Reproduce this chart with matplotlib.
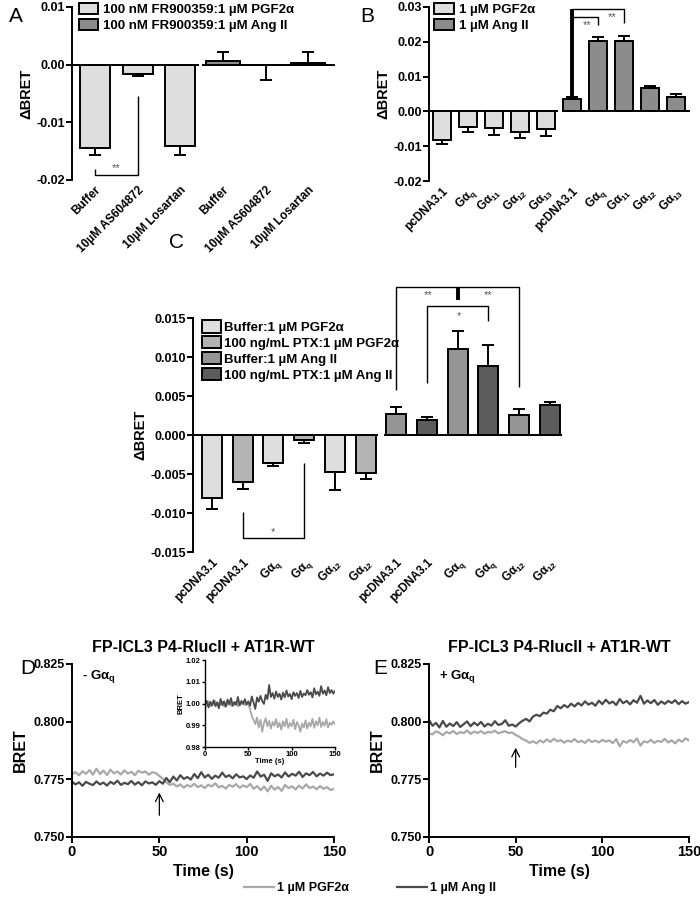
import matplotlib
matplotlib.use("Agg")
import matplotlib.pyplot as plt
import numpy as np
from matplotlib.patches import Patch
from matplotlib.lines import Line2D
from matplotlib.ticker import FormatStrFormatter

plt.rcParams["font.family"] = ["Liberation Sans", "DejaVu Sans"]
plt.rcParams["font.weight"] = "bold"
plt.rcParams["axes.labelweight"] = "bold"
plt.rcParams["axes.unicode_minus"] = False
plt.rcParams["mathtext.fontset"] = "custom"
plt.rcParams["mathtext.rm"] = "Liberation Sans:bold"
plt.rcParams["mathtext.it"] = "Liberation Sans:bold"
plt.rcParams["mathtext.bf"] = "Liberation Sans:bold"

W, H = 700, 905

# ---------------- data ----------------
# Panel A
a_labels = ["Buffer", "10\u00b5M AS604872", "10\u00b5M Losartan",
            "Buffer", "10\u00b5M AS604872", "10\u00b5M Losartan"]
a_pgf = [-0.0145, -0.0016, -0.0141]
a_pgf_err = [0.0011, 0.0003, 0.0015]
a_ang = [0.0007, -0.0001, 0.0003]
a_ang_err = [0.0015, 0.0025, 0.0019]

# Panel B
b_labels = ["pcDNA3.1", r"G$\alpha_q$", r"G$\alpha_{11}$", r"G$\alpha_{12}$", r"G$\alpha_{13}$"] * 2
b_pgf = [-0.0083, -0.0046, -0.0048, -0.0060, -0.0051]
b_pgf_err = [0.0012, 0.0013, 0.0020, 0.0017, 0.0021]
b_ang = [0.0036, 0.0201, 0.0201, 0.0067, 0.0042]
b_ang_err = [0.0005, 0.0012, 0.0017, 0.0007, 0.0009]

# Panel C (order: pcDNA buf, pcDNA PTX, Gq buf, Gq PTX, G12 buf, G12 PTX)
c_labels = ["pcDNA3.1", "pcDNA3.1", r"G$\alpha_q$", r"G$\alpha_q$", r"G$\alpha_{12}$", r"G$\alpha_{12}$"] * 2
c_pgf = [-0.0081, -0.0060, -0.0036, -0.0006, -0.0048, -0.0049]
c_pgf_err = [0.0014, 0.0009, 0.0004, 0.0004, 0.0022, 0.0008]
c_ang = [0.0027, 0.0019, 0.0110, 0.0088, 0.0026, 0.0038]
c_ang_err = [0.0009, 0.0004, 0.0023, 0.0028, 0.0007, 0.0004]

# Panels D/E kinetic traces (sampled every 2 s)
time_s = list(range(0, 151, 2))
d_pgf = [0.7772, 0.7781, 0.7768, 0.7785, 0.7774, 0.7790, 0.7770, 0.7796, 0.7773, 0.7788,
         0.7769, 0.7792, 0.7776, 0.7784, 0.7771, 0.7789, 0.7775, 0.7783, 0.7768, 0.7787,
         0.7779, 0.7784, 0.7770, 0.7781, 0.7777, 0.7765, 0.7752, 0.7738, 0.7726, 0.7731,
         0.7719, 0.7728, 0.7714, 0.7725, 0.7718, 0.7731, 0.7716, 0.7724, 0.7712, 0.7727,
         0.7719, 0.7733, 0.7715, 0.7722, 0.7710, 0.7726, 0.7718, 0.7729, 0.7713, 0.7724,
         0.7716, 0.7730, 0.7709, 0.7721, 0.7703, 0.7719, 0.7698, 0.7722, 0.7705, 0.7717,
         0.7700, 0.7726, 0.7712, 0.7720, 0.7706, 0.7723, 0.7710, 0.7728, 0.7712, 0.7719,
         0.7707, 0.7721, 0.7709, 0.7716, 0.7704, 0.7708]
d_ang = [0.7740, 0.7728, 0.7737, 0.7722, 0.7739, 0.7731, 0.7725, 0.7741, 0.7728, 0.7736,
         0.7723, 0.7739, 0.7730, 0.7744, 0.7726, 0.7735, 0.7729, 0.7743, 0.7727, 0.7738,
         0.7724, 0.7741, 0.7732, 0.7737, 0.7726, 0.7742, 0.7731, 0.7756, 0.7738, 0.7762,
         0.7745, 0.7768, 0.7752, 0.7760, 0.7749, 0.7773, 0.7755, 0.7781, 0.7758, 0.7770,
         0.7752, 0.7766, 0.7757, 0.7779, 0.7760, 0.7768, 0.7754, 0.7772, 0.7758, 0.7763,
         0.7751, 0.7767, 0.7757, 0.7784, 0.7762, 0.7770, 0.7743, 0.7776, 0.7763, 0.7771,
         0.7758, 0.7780, 0.7762, 0.7774, 0.7766, 0.7783, 0.7760, 0.7776, 0.7768, 0.7782,
         0.7763, 0.7775, 0.7766, 0.7779, 0.7768, 0.7772]
e_pgf = [0.7948, 0.7945, 0.7958, 0.7952, 0.7941, 0.7956, 0.7949, 0.7960, 0.7946, 0.7955,
         0.7950, 0.7962, 0.7947, 0.7957, 0.7951, 0.7959, 0.7948, 0.7956, 0.7953, 0.7961,
         0.7949, 0.7955, 0.7958, 0.7951, 0.7953, 0.7942, 0.7935, 0.7924, 0.7918, 0.7908,
         0.7915, 0.7906, 0.7919, 0.7910, 0.7923, 0.7912, 0.7926, 0.7915, 0.7920, 0.7909,
         0.7918, 0.7913, 0.7924, 0.7911, 0.7917, 0.7908, 0.7922, 0.7912, 0.7918, 0.7910,
         0.7921, 0.7913, 0.7919, 0.7907, 0.7924, 0.7893, 0.7916, 0.7909, 0.7920, 0.7911,
         0.7927, 0.7896, 0.7915, 0.7910, 0.7921, 0.7908, 0.7917, 0.7912, 0.7925, 0.7910,
         0.7919, 0.7906, 0.7922, 0.7913, 0.7928, 0.7918]
e_ang = [0.8008, 0.7982, 0.7995, 0.7975, 0.8003, 0.7978, 0.7992, 0.7981, 0.7998, 0.7977,
         0.7989, 0.8001, 0.7980, 0.7996, 0.7984, 0.7999, 0.7979, 0.7991, 0.7983, 0.8002,
         0.7986, 0.7990, 0.8006, 0.7982, 0.7988, 0.7979, 0.7993, 0.8004, 0.8012, 0.8001,
         0.8022, 0.8030, 0.8024, 0.8039, 0.8035, 0.8052, 0.8045, 0.8068, 0.8058, 0.8072,
         0.8062, 0.8078, 0.8066, 0.8081, 0.8070, 0.8088, 0.8074, 0.8082, 0.8069, 0.8091,
         0.8076, 0.8095, 0.8079, 0.8087, 0.8072, 0.8098, 0.8080, 0.8090, 0.8075, 0.8093,
         0.8082, 0.8112, 0.8078, 0.8092, 0.8080, 0.8094, 0.8073, 0.8088, 0.8077, 0.8090,
         0.8081, 0.8093, 0.8076, 0.8089, 0.8078, 0.8085]
# inset of D (normalised BRET)
ins_pgf = [1.0002, 0.9990, 1.0010, 0.9985, 1.0005, 0.9995, 1.0012, 0.9988, 1.0003, 0.9992,
           1.0008, 0.9986, 1.0000, 0.9994, 1.0011, 0.9989, 1.0004, 0.9993, 1.0009, 0.9987,
           1.0003, 0.9996, 1.0007, 0.9991, 1.0002, 0.9995, 0.9975, 0.9940, 0.9925, 0.9905,
           0.9935, 0.9890, 0.9925, 0.9870, 0.9910, 0.9932, 0.9895, 0.9920, 0.9885, 0.9915,
           0.9898, 0.9928, 0.9890, 0.9912, 0.9880, 0.9918, 0.9895, 0.9930, 0.9888, 0.9910,
           0.9895, 0.9925, 0.9882, 0.9915, 0.9900, 0.9870, 0.9908, 0.9890, 0.9922, 0.9885,
           0.9912, 0.9895, 0.9930, 0.9888, 0.9918, 0.9900, 0.9935, 0.9892, 0.9915, 0.9898,
           0.9928, 0.9890, 0.9912, 0.9902, 0.9918, 0.9905]
ins_ang = [0.9995, 1.0012, 0.9982, 1.0008, 0.9990, 1.0015, 0.9988, 1.0005, 0.9978, 1.0021,
           0.9993, 1.0010, 0.9985, 1.0018, 0.9996, 1.0025, 0.9989, 1.0007, 0.9994, 1.0030,
           0.9991, 1.0012, 0.9998, 1.0020, 0.9995, 1.0010, 0.9990, 1.0032, 1.0005, 0.9975,
           1.0028, 1.0008, 1.0035, 1.0012, 0.9998, 1.0040, 1.0020, 1.0085, 1.0030, 1.0048,
           1.0022, 1.0055, 1.0030, 1.0045, 1.0018, 1.0050, 1.0028, 1.0060, 1.0032, 1.0044,
           1.0020, 1.0052, 1.0035, 1.0048, 1.0025, 1.0058, 1.0030, 1.0046, 1.0038, 1.0062,
           1.0040, 1.0052, 1.0028, 1.0070, 1.0042, 1.0055, 1.0035, 1.0080, 1.0045, 1.0060,
           1.0038, 1.0075, 1.0048, 1.0062, 1.0045, 1.0058]

# ---------------- styling ----------------
LIGHT = "#dedede"
MIDLIGHT = "#b4b4b4"
MID = "#959595"
DARK = "#8c8c8c"
DARKEST = "#5c5c5c"
TR_LIGHT = "#a8a8a8"
TR_DARK = "#4a4a4a"
LW = 1.4

fig = plt.figure(figsize=(W / 100, H / 100), dpi=100)


def px_axes(x0, y0, x1, y1):
    # axes from pixel box (top-left origin)
    return fig.add_axes([x0 / W, 1 - y1 / H, (x1 - x0) / W, (y1 - y0) / H])


def style_bar_axes(ax, ylim, fmt, ticks):
    ax.set_ylim(*ylim)
    ax.set_yticks(ticks)
    ax.yaxis.set_major_formatter(FormatStrFormatter(fmt))
    for s in ["top", "right", "bottom"]:
        ax.spines[s].set_visible(False)
    ax.spines["left"].set_linewidth(LW)
    ax.tick_params(axis="y", direction="out", length=4, width=LW, labelsize=9, pad=1)
    ax.tick_params(axis="x", length=0, labelsize=8.5, pad=3)
    ax.patch.set_alpha(0)


def one_sided(vals, errs):
    lo = [e if v < 0 else 0 for v, e in zip(vals, errs)]
    hi = [e if v >= 0 else 0 for v, e in zip(vals, errs)]
    return [lo, hi]


def draw_bars(ax, pos, vals, errs, colors, width):
    ax.bar(pos, vals, width=width, color=colors, edgecolor="black", linewidth=LW, zorder=2)
    ax.errorbar(pos, vals, yerr=one_sided(vals, errs), fmt="none", ecolor="black",
                elinewidth=LW, capsize=4, capthick=LW, zorder=3)


def set_xlabels(ax, pos, labels):
    ax.set_xticks(pos)
    ax.set_xticklabels(labels, rotation=45, ha="right", rotation_mode="anchor")


def bracket(ax, pts, lw=1.0):
    xs, ys = zip(*pts)
    ax.plot(xs, ys, color="black", lw=lw, clip_on=False, zorder=4, solid_capstyle="butt")


def stars(ax, x, y, s):
    ax.text(x, y, s, ha="center", va="center", fontsize=8, color="#555555",
            fontweight="normal", clip_on=False)


# ---------------- Panel A ----------------
axA = px_axes(72, 7, 335, 180)
style_bar_axes(axA, (-0.02, 0.01), "%.2f", [-0.02, -0.01, 0.0, 0.01])
posA = np.arange(6)
axA.set_xlim(-0.54, 5.63)
draw_bars(axA, posA[:3], a_pgf, a_pgf_err, LIGHT, 0.7)
draw_bars(axA, posA[3:], a_ang, a_ang_err, DARK, 0.8)
axA.hlines(0, -0.54, 2.45, color="black", lw=LW, zorder=3)
axA.hlines(0, 2.5, 5.63, color="black", lw=LW, zorder=3)
set_xlabels(axA, posA, a_labels)
axA.set_ylabel("\u0394BRET", fontsize=10.5, labelpad=2)
bracket(axA, [(0, -0.0181), (0, -0.0191), (1.0, -0.0191), (1.0, -0.0054)])
stars(axA, 0.5, -0.0179, "**")
axA.legend(handles=[Patch(facecolor=LIGHT, edgecolor="black", lw=LW),
                    Patch(facecolor=DARK, edgecolor="black", lw=LW)],
           labels=["100 nM FR900359:1 \u00b5M PGF2\u03b1", "100 nM FR900359:1 \u00b5M Ang II"],
           loc="upper left", bbox_to_anchor=(0.025, 1.025), frameon=False, fontsize=9.5,
           handlelength=1.5, handleheight=0.95, handletextpad=0.35, labelspacing=0.2,
           borderaxespad=0, borderpad=0)
fig.text(16 / W, 1 - 16 / H, "A", fontsize=15, fontweight="normal", ha="center", va="center")

# ---------------- Panel B ----------------
axB = px_axes(429, 7, 690, 181)
style_bar_axes(axB, (-0.02, 0.03), "%.2f", [-0.02, -0.01, 0.0, 0.01, 0.02, 0.03])
posB = np.arange(10)
axB.set_xlim(-0.5, 9.54)
draw_bars(axB, posB[:5], b_pgf, b_pgf_err, LIGHT, 0.69)
draw_bars(axB, posB[5:], b_ang, b_ang_err, DARK, 0.69)
axB.hlines(0, -0.5, 4.45, color="black", lw=LW, zorder=3)
axB.hlines(0, 4.6, 9.54, color="black", lw=LW, zorder=3)
set_xlabels(axB, posB, b_labels)
axB.set_ylabel("\u0394BRET", fontsize=10.5, labelpad=2)
bracket(axB, [(5, 0.0045), (5, 0.0295)], lw=2.8)
bracket(axB, [(5, 0.0295), (7, 0.0295), (7, 0.0254)])
bracket(axB, [(5, 0.0270), (6, 0.0270), (6, 0.0249)])
stars(axB, 5.6, 0.0249, "**")
stars(axB, 6.55, 0.0272, "**")
axB.legend(handles=[Patch(facecolor=LIGHT, edgecolor="black", lw=LW),
                    Patch(facecolor=DARK, edgecolor="black", lw=LW)],
           labels=["1 \u00b5M PGF2\u03b1", "1 \u00b5M Ang II"],
           loc="upper left", bbox_to_anchor=(0.02, 1.025), frameon=False, fontsize=9.5,
           handlelength=1.5, handleheight=0.95, handletextpad=0.35, labelspacing=0.2,
           borderaxespad=0, borderpad=0)
fig.text(367 / W, 1 - 16 / H, "B", fontsize=15, fontweight="normal", ha="center", va="center")

# ---------------- Panel C ----------------
axC = px_axes(193, 318, 562, 552)
style_bar_axes(axC, (-0.015, 0.015), "%.3f", [-0.015, -0.01, -0.005, 0.0, 0.005, 0.01, 0.015])
posC = np.arange(12)
axC.set_xlim(-0.62, 11.4)
draw_bars(axC, posC[:6], c_pgf, c_pgf_err, [LIGHT, MIDLIGHT] * 3, 0.65)
draw_bars(axC, posC[6:], c_ang, c_ang_err, [MID, DARKEST] * 3, 0.65)
axC.hlines(0, -0.62, 5.4, color="black", lw=LW, zorder=3)
axC.hlines(0, 5.6, 11.4, color="black", lw=LW, zorder=3)
set_xlabels(axC, posC, c_labels)
axC.set_ylabel("\u0394BRET", fontsize=10.5, labelpad=2)
bracket(axC, [(6, 0.0058), (6, 0.019), (10, 0.019), (10, 0.0062)])
bracket(axC, [(8, 0.019), (8, 0.0173)], lw=2.8)
bracket(axC, [(7, 0.0067), (7, 0.0165), (9, 0.0165), (9, 0.0146)])
bracket(axC, [(1, -0.0099), (1, -0.0132), (3, -0.0132), (3, -0.0036)])
stars(axC, 7.03, 0.0179, "**")
stars(axC, 8.99, 0.0179, "**")
stars(axC, 8.05, 0.0152, "*")
stars(axC, 2.0, -0.0124, "*")
axC.legend(handles=[Patch(facecolor=c, edgecolor="black", lw=LW) for c in [LIGHT, MIDLIGHT, MID, DARKEST]],
           labels=["Buffer:1 \u00b5M PGF2\u03b1", "100 ng/mL PTX:1 \u00b5M PGF2\u03b1",
                   "Buffer:1 \u00b5M Ang II", "100 ng/mL PTX:1 \u00b5M Ang II"],
           loc="upper left", bbox_to_anchor=(0.025, 0.99), frameon=False, fontsize=9.5,
           handlelength=1.4, handleheight=1.05, handletextpad=0.25, labelspacing=0.17,
           borderaxespad=0, borderpad=0)
fig.text(177 / W, 1 - 242 / H, "C", fontsize=15, fontweight="normal", ha="center", va="center")


# ---------------- Panels D / E ----------------
def trace_axes(ax, pgf, ang, label):
    ax.plot(time_s, pgf, color=TR_LIGHT, lw=1.6)
    ax.plot(time_s, ang, color=TR_DARK, lw=1.6)
    ax.set_xlim(0, 150)
    ax.set_ylim(0.750, 0.825)
    ax.set_xticks([0, 50, 100, 150])
    ax.set_yticks([0.750, 0.775, 0.800, 0.825])
    ax.yaxis.set_major_formatter(FormatStrFormatter("%.3f"))
    for s in ["top", "right"]:
        ax.spines[s].set_visible(False)
    for s in ["left", "bottom"]:
        ax.spines[s].set_linewidth(LW)
    ax.tick_params(axis="y", direction="out", length=4, width=LW, labelsize=9, pad=1)
    ax.tick_params(axis="x", direction="out", length=4, width=LW, labelsize=10.5, pad=2)
    ax.set_xlabel("Time (s)", fontsize=11.5, labelpad=3)
    ax.set_ylabel("BRET", fontsize=11.5, labelpad=4)
    ax.set_title("FP-ICL3 P4-RlucII + AT1R-WT", fontsize=11.5, fontweight="bold", pad=9)
    ax.text(0.04, 0.93, label, transform=ax.transAxes, fontsize=9.5, va="center", ha="left")


axD = px_axes(72, 664, 334, 837)
trace_axes(axD, d_pgf, d_ang, r"- G$\alpha_q$")
axD.annotate("", xy=(50, 0.7705), xytext=(50, 0.7582),
             arrowprops=dict(arrowstyle="->", color="black", lw=0.9, mutation_scale=14))
fig.text(28 / W, 1 - 668 / H, "D", fontsize=15, fontweight="normal", ha="center", va="center")

axE = px_axes(429, 664, 689, 837)
trace_axes(axE, e_pgf, e_ang, r"+ G$\alpha_q$")
axE.annotate("", xy=(50, 0.7899), xytext=(50, 0.7790),
             arrowprops=dict(arrowstyle="->", color="black", lw=0.9, mutation_scale=14))
fig.text(380 / W, 1 - 668 / H, "E", fontsize=15, fontweight="normal", ha="center", va="center")

# inset
axI = px_axes(205, 660, 335, 747)
axI.plot(time_s, ins_pgf, color=TR_LIGHT, lw=1.3)
axI.plot(time_s, ins_ang, color=TR_DARK, lw=1.3)
axI.set_xlim(0, 150)
axI.set_ylim(0.98, 1.02)
axI.set_xticks([0, 50, 100, 150])
axI.set_yticks([0.98, 0.99, 1.00, 1.01, 1.02])
axI.yaxis.set_major_formatter(FormatStrFormatter("%.2f"))
for s in ["top", "right"]:
    axI.spines[s].set_visible(False)
for s in ["left", "bottom"]:
    axI.spines[s].set_linewidth(1.0)
axI.tick_params(direction="out", length=2, width=1.0, labelsize=5.5, pad=1)
axI.set_xlabel("Time (s)", fontsize=5.5, labelpad=0)
axI.set_ylabel("BRET", fontsize=5.5, labelpad=1)
axI.patch.set_alpha(0)

# bottom legend
fig.legend(handles=[Line2D([], [], color=TR_LIGHT, lw=1.6), Line2D([], [], color=TR_DARK, lw=1.6)],
           labels=["1 \u00b5M PGF2\u03b1", "1 \u00b5M Ang II"],
           loc="center", bbox_to_anchor=(370 / W, 1 - 888 / H), ncol=2, frameon=False,
           fontsize=9, handlelength=2.4, handletextpad=0.25, columnspacing=3.8)

fig.savefig("out.png", dpi=100)
